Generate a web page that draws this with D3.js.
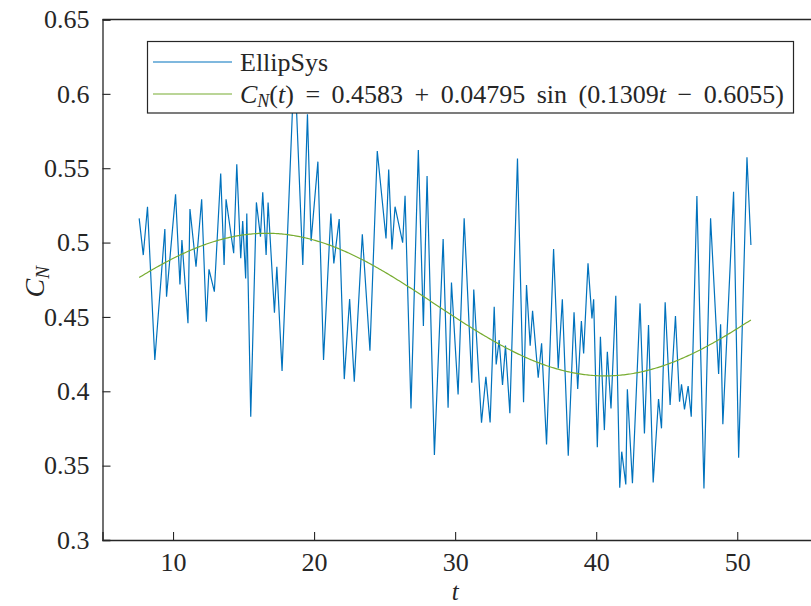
<!DOCTYPE html>
<html>
<head>
<meta charset="utf-8">
<script src="https://cdn.jsdelivr.net/npm/d3@7"></script>
<style>
  html, body { margin: 0; padding: 0; background: #fff; }
  svg { display: block; }
  text { font-family: "Liberation Serif", "DejaVu Serif", serif; fill: #262626; }
</style>
</head>
<body>
<svg id="chart" width="811" height="606"></svg>
<script>
// ---- data ----
const tValues = [
  7.60, 7.89, 8.19, 8.71, 9.42, 9.54, 10.18, 10.49, 10.63, 11.06, 11.20, 11.63, 12.03, 12.36, 12.55, 12.93, 13.38, 13.62, 13.76, 14.30, 14.52,
  14.80, 14.94, 15.15, 15.23, 15.51, 15.91, 16.20, 16.36, 16.60, 16.74, 17.19, 17.36, 17.73, 18.61, 19.20, 19.53, 19.79, 20.27, 20.67, 21.19, 21.40, 21.78,
  22.14, 22.52, 22.85, 23.42, 23.96, 24.48, 25.10, 25.29, 25.52, 25.74, 26.28, 26.45, 26.87, 27.39, 27.75, 28.01, 28.53,
  29.15, 29.50, 29.74, 30.21, 30.64, 31.18, 31.32, 31.87, 32.18, 32.48, 32.77, 32.91, 33.12, 33.36, 33.57, 33.88, 34.42, 34.85, 35.06, 35.32, 35.49, 35.89,
  36.13, 36.48, 36.98, 37.31, 37.60, 38.02, 38.43, 38.69, 38.95, 39.11, 39.42, 39.70, 39.82, 40.08, 40.30, 40.58, 40.79, 41.05, 41.39, 41.67, 41.81, 42.10, 42.21, 42.57, 43.11,
  43.42, 43.71, 44.04, 44.42, 44.63, 44.89, 45.24, 45.62, 45.91, 46.05, 46.26, 46.52, 46.74, 47.14, 47.64, 48.11, 48.68, 48.82, 48.98, 49.74, 50.10, 50.69, 50.97
];
const cnValues = [
  0.5163, 0.4916, 0.5241, 0.4210, 0.5091, 0.4636, 0.5324, 0.4719, 0.5017, 0.4457, 0.5226, 0.4838, 0.5291, 0.4468, 0.4820, 0.4670, 0.5465, 0.4849, 0.5291, 0.4928, 0.5526,
  0.4894, 0.5145, 0.4759, 0.5196, 0.3829, 0.5270, 0.5040, 0.5338, 0.4916, 0.5270, 0.4528, 0.4838, 0.4136, 0.6232, 0.4849, 0.5862, 0.5010, 0.5544, 0.4210, 0.5196, 0.4860, 0.5158,
  0.4082, 0.4620, 0.4064, 0.5055, 0.4273, 0.5616, 0.5028, 0.5492, 0.4954, 0.5241, 0.4999, 0.5315, 0.3885, 0.5622, 0.4439, 0.5448, 0.3571,
  0.5024, 0.3890, 0.4732, 0.3979, 0.5163, 0.4058, 0.4685, 0.3789, 0.4098, 0.3791, 0.4569, 0.4181, 0.4345, 0.4042, 0.4307, 0.3852, 0.5566, 0.3926, 0.4715, 0.4307, 0.4542, 0.4091,
  0.4322, 0.3643, 0.4957, 0.4154, 0.4618, 0.3567, 0.4531, 0.4015, 0.4472, 0.4255, 0.4860, 0.4490, 0.4618, 0.3623, 0.4367, 0.3739, 0.4266, 0.3885, 0.4643, 0.3352, 0.3594, 0.3374, 0.4013, 0.3381, 0.4591,
  0.3717, 0.4446, 0.3387, 0.3948, 0.3751, 0.4598, 0.3908, 0.4506, 0.3930, 0.4047, 0.3878, 0.4035, 0.3829, 0.5313, 0.3347, 0.5163, 0.4116, 0.4450, 0.3778, 0.5342, 0.3553, 0.5573, 0.4984
];
// fitted curve parameters shown in the legend: a + b sin(w t + phi)
const fitParams = { a: 0.4583, b: 0.04795, w: 0.1309, phi: -0.6055 };
const xTicks = [10, 20, 30, 40, 50];
const yTicks = [0.3, 0.35, 0.4, 0.45, 0.5, 0.55, 0.6, 0.65];
const yTickLabels = ["0.3", "0.35", "0.4", "0.45", "0.5", "0.55", "0.6", "0.65"];
const legendLabels = ["EllipSys", "fit"];

// ---- layout ----
const mLeft = 102.5, mTop = 19.5, mBottom = 540, mRight = 812;
const svg = d3.select("#chart");
const AX = "#262626";
const blue = "#0072BD", green = "#77AC30";

const x = d3.scaleLinear().domain([5, 55.3]).range([mLeft, mRight]);
const y = d3.scaleLinear().domain([0.3, 0.65]).range([mBottom, mTop]);

svg.append("defs").append("clipPath").attr("id", "clip")
  .append("rect").attr("x", mLeft).attr("y", mTop).attr("width", mRight - mLeft).attr("height", mBottom - mTop);

// data line
const data = tValues.map((t, i) => ({ t, v: cnValues[i] }));
const line = d3.line().x(d => x(d.t)).y(d => y(d.v));
svg.append("path").datum(data)
  .attr("clip-path", "url(#clip)")
  .attr("d", line).attr("fill", "none").attr("stroke", blue).attr("stroke-width", 1.2)
  .attr("stroke-linejoin", "miter");

// fit curve
const t0 = d3.min(tValues), t1 = d3.max(tValues);
const fitData = d3.range(0, 401).map(i => {
  const t = t0 + (t1 - t0) * i / 400;
  return { t, v: fitParams.a + fitParams.b * Math.sin(fitParams.w * t + fitParams.phi) };
});
svg.append("path").datum(fitData)
  .attr("d", line).attr("fill", "none").attr("stroke", green).attr("stroke-width", 1.2);

// axes
const xAxis = d3.axisBottom(x).tickValues(xTicks).tickSize(-8).tickPadding(13).tickFormat(d3.format("d"));
const gx = svg.append("g").attr("transform", `translate(0,${mBottom})`).call(xAxis);
const yAxis = d3.axisLeft(y).tickValues(yTicks).tickSize(-8).tickPadding(13).tickFormat((d, i) => yTickLabels[i]);
const gy = svg.append("g").attr("transform", `translate(${mLeft},0)`).call(yAxis);
[gx, gy].forEach(g => {
  g.select(".domain").attr("stroke", AX).attr("stroke-width", 1.3);
  g.selectAll(".tick line").attr("stroke", AX).attr("stroke-width", 1.1);
  g.selectAll(".tick text").attr("fill", AX).style("font-family", '"Liberation Serif", serif').style("font-size", "26px");
});
// top border
svg.append("line").attr("x1", mLeft).attr("x2", mRight).attr("y1", mTop).attr("y2", mTop)
  .attr("stroke", AX).attr("stroke-width", 1.3);

// axis labels
svg.append("text").attr("x", x(30)).attr("y", 600).attr("text-anchor", "middle")
  .style("font-size", "25px").style("font-style", "italic").text("t");
const yl = svg.append("text").attr("transform", `translate(44,${(mTop + mBottom) / 2 + 2}) rotate(-90)`)
  .attr("text-anchor", "middle").style("font-size", "28px");
yl.append("tspan").style("font-style", "italic").text("C");
yl.append("tspan").style("font-style", "italic").style("font-size", "19px").attr("dy", 5).text("N");

// legend
const lg = svg.append("g");
lg.append("rect").attr("x", 147.5).attr("y", 41.5).attr("width", 646).attr("height", 71.5)
  .attr("fill", "#fff").attr("stroke", AX).attr("stroke-width", 1.2);
lg.append("line").attr("x1", 153).attr("x2", 232).attr("y1", 62).attr("y2", 62).attr("stroke", blue).attr("stroke-width", 1.2);
lg.append("line").attr("x1", 153).attr("x2", 232).attr("y1", 94).attr("y2", 94).attr("stroke", green).attr("stroke-width", 1.2);
lg.append("text").attr("x", 240).attr("y", 71).style("font-size", "26px").text(legendLabels[0]);
const ft = lg.append("text").attr("x", 240).attr("y", 103).style("font-size", "26px").style("word-spacing", "5px");
ft.append("tspan").style("font-style", "italic").text("C");
ft.append("tspan").style("font-style", "italic").style("font-size", "18px").attr("dy", 4).text("N");
ft.append("tspan").attr("dy", -4).text("(");
ft.append("tspan").style("font-style", "italic").text("t");
ft.append("tspan").text(`) = ${fitParams.a} + ${fitParams.b} sin (${fitParams.w}`);
ft.append("tspan").style("font-style", "italic").text("t");
ft.append("tspan").text(` \u2212 ${Math.abs(fitParams.phi)})`);
</script>
</body>
</html>
